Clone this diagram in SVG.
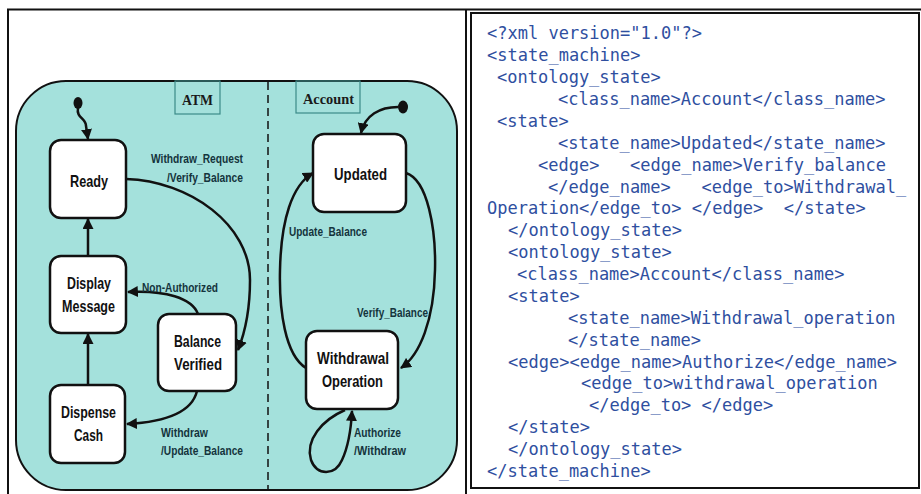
<svg xmlns="http://www.w3.org/2000/svg" width="921" height="494" viewBox="0 0 921 494">
  <style>
    .frame { fill: none; stroke: #111; stroke-width: 2; }
    .region { fill: #a4e1dc; stroke: #111; stroke-width: 2; }
    .tag { fill: none; stroke: #3c8b89; stroke-width: 1.2; }
    .tagtext { font-family: "Liberation Serif", serif; font-weight: bold; font-size: 15px; fill: #1a1a1a; text-anchor: middle; }
    .state rect { fill: #fff; stroke: #111; stroke-width: 2.5; }
    .state text { font-family: "Liberation Sans", Arial, sans-serif; font-weight: bold; font-size: 16.5px; fill: #111; text-anchor: middle; }
    .edge { fill: none; stroke: #111; stroke-width: 2.5; marker-end: url(#arrow); }
    .elabel { font-family: "Liberation Sans", Arial, sans-serif; font-weight: bold; font-size: 13px; fill: #14343c; }
    .code { font-family: "DejaVu Sans Mono", "Liberation Mono", monospace; font-size: 17px; fill: #2f4f9f; }
  </style>
  <defs>
    <marker id="arrow" viewBox="0 0 10 10" refX="9" refY="5" markerWidth="4.4" markerHeight="4.4" orient="auto" markerUnits="strokeWidth">
      <path d="M0,0 L10,5 L0,10 z" fill="#111"/>
    </marker>
  </defs>

  <rect width="921" height="494" fill="#fff"/>

  <!-- table frame -->
  <line class="frame" x1="7" y1="9.5" x2="921" y2="9.5"/>
  <line class="frame" x1="8" y1="9" x2="8" y2="494"/>
  <line class="frame" x1="466" y1="9" x2="466" y2="494"/>
  <rect class="frame" x="471" y="13" width="448" height="475" stroke="#2a2a2a"/>

  <!-- composite state with two regions -->
  <rect class="region" x="16" y="81" width="441" height="409" rx="50" ry="50"/>
  <line x1="268" y1="82" x2="268" y2="489" stroke="#111" stroke-width="1.5" stroke-dasharray="8,5"/>
  <rect class="tag" x="175" y="81" width="45" height="33"/>
  <text class="tagtext" x="197.5" y="105" textLength="31" lengthAdjust="spacingAndGlyphs">ATM</text>
  <rect class="tag" x="296" y="81" width="64" height="32"/>
  <text class="tagtext" x="328.5" y="104" textLength="51" lengthAdjust="spacingAndGlyphs">Account</text>

  <!-- initial pseudo-states -->
  <ellipse id="init-atm" cx="78" cy="103" rx="4.5" ry="6" fill="#111"/>
  <ellipse id="init-account" cx="403" cy="107" rx="5" ry="6.5" fill="#111"/>

  <!-- states -->
  <g id="ready" class="state">
    <rect x="50" y="140" width="76" height="78" rx="11"/>
    <text x="89" y="187" textLength="38" lengthAdjust="spacingAndGlyphs">Ready</text>
  </g>
  <g id="display-message" class="state">
    <rect x="50" y="256" width="76" height="77" rx="11"/>
    <text x="89" y="289" textLength="44" lengthAdjust="spacingAndGlyphs">Display</text>
    <text x="88.5" y="312" textLength="53" lengthAdjust="spacingAndGlyphs">Message</text>
  </g>
  <g id="balance-verified" class="state">
    <rect x="158" y="314" width="78" height="77" rx="11"/>
    <text x="197.5" y="347" textLength="47" lengthAdjust="spacingAndGlyphs">Balance</text>
    <text x="198" y="370" textLength="48" lengthAdjust="spacingAndGlyphs">Verified</text>
  </g>
  <g id="dispense-cash" class="state">
    <rect x="50" y="385" width="75" height="78" rx="11"/>
    <text x="88.5" y="418" textLength="55" lengthAdjust="spacingAndGlyphs">Dispense</text>
    <text x="88.5" y="441" textLength="29" lengthAdjust="spacingAndGlyphs">Cash</text>
  </g>
  <g id="updated" class="state">
    <rect x="313" y="134" width="93" height="78" rx="11"/>
    <text x="360.5" y="180" textLength="53" lengthAdjust="spacingAndGlyphs">Updated</text>
  </g>
  <g id="withdrawal-operation" class="state">
    <rect x="306" y="331" width="92" height="78" rx="11"/>
    <text x="353" y="364" textLength="72" lengthAdjust="spacingAndGlyphs">Withdrawal</text>
    <text x="352.5" y="387" textLength="61" lengthAdjust="spacingAndGlyphs">Operation</text>
  </g>

  <!-- transitions -->
  <g id="transitions">
    <path class="edge" d="M78,108 C76,118 86,118 86,126 L88,139"/>
    <path class="edge" d="M398,107 C380,107 365,115 361,133"/>
    <path class="edge" d="M126,179 C190,181 250,225 250,280 C250,315 244,335 238,350"/>
    <path class="edge" d="M88,256 L88,219"/>
    <path class="edge" d="M88,385 L88,334"/>
    <path class="edge" d="M198,314 C192,298 165,290 128,292"/>
    <path class="edge" d="M197,391 C192,412 165,422 127,424"/>
    <path class="edge" d="M406,173 C428,180 436,230 435,270 C434,320 420,355 401,368"/>
    <path class="edge" d="M306,368 C285,355 279,310 280,270 C281,220 292,185 313,173"/>
    <path class="edge" d="M345,410 C322,420 305,440 311,460 C317,476 335,476 342,460 C349,445 351,430 352,411"/>
  </g>

  <!-- transition labels -->
  <g id="transition-labels">
    <text class="elabel" x="151" y="163" textLength="92" lengthAdjust="spacingAndGlyphs">Withdraw_Request</text>
    <text class="elabel" x="167" y="182" textLength="76" lengthAdjust="spacingAndGlyphs">/Verify_Balance</text>
    <text class="elabel" x="142" y="292" textLength="76" lengthAdjust="spacingAndGlyphs">Non-Authorized</text>
    <text class="elabel" x="161" y="437" textLength="47" lengthAdjust="spacingAndGlyphs">Withdraw</text>
    <text class="elabel" x="161" y="455" textLength="82" lengthAdjust="spacingAndGlyphs">/Update_Balance</text>
    <text class="elabel" x="289" y="236" textLength="78" lengthAdjust="spacingAndGlyphs">Update_Balance</text>
    <text class="elabel" x="357" y="317" textLength="71" lengthAdjust="spacingAndGlyphs">Verify_Balance</text>
    <text class="elabel" x="354" y="437" textLength="47" lengthAdjust="spacingAndGlyphs">Authorize</text>
    <text class="elabel" x="354" y="455" textLength="52" lengthAdjust="spacingAndGlyphs">/Withdraw</text>
  </g>

  <!-- XML listing -->
  <g id="xml-listing" class="code">
    <text x="487" y="39">&lt;?xml version="1.0"?&gt;</text>
    <text x="487" y="61">&lt;state_machine&gt;</text>
    <text x="497" y="83">&lt;ontology_state&gt;</text>
    <text x="558" y="105">&lt;class_name&gt;Account&lt;/class_name&gt;</text>
    <text x="497" y="127">&lt;state&gt;</text>
    <text x="558" y="149">&lt;state_name&gt;Updated&lt;/state_name&gt;</text>
    <text x="538" y="171">&lt;edge&gt;&#160;&#160;&#160;&lt;edge_name&gt;Verify_balance</text>
    <text x="548" y="193">&lt;/edge_name&gt;&#160;&#160;&#160;&lt;edge_to&gt;Withdrawal_</text>
    <text x="487" y="214">Operation&lt;/edge_to&gt; &lt;/edge&gt;&#160;&#160;&lt;/state&gt;</text>
    <text x="508" y="236">&lt;/ontology_state&gt;</text>
    <text x="508" y="258">&lt;ontology_state&gt;</text>
    <text x="517" y="280">&lt;class_name&gt;Account&lt;/class_name&gt;</text>
    <text x="508" y="302">&lt;state&gt;</text>
    <text x="568" y="324">&lt;state_name&gt;Withdrawal_operation</text>
    <text x="568" y="346">&lt;/state_name&gt;</text>
    <text x="508" y="368">&lt;edge&gt;&lt;edge_name&gt;Authorize&lt;/edge_name&gt;</text>
    <text x="581" y="389">&lt;edge_to&gt;withdrawal_operation</text>
    <text x="589" y="411">&lt;/edge_to&gt; &lt;/edge&gt;</text>
    <text x="508" y="433">&lt;/state&gt;</text>
    <text x="508" y="455">&lt;/ontology_state&gt;</text>
    <text x="487" y="477">&lt;/state_machine&gt;</text>
  </g>
</svg>
